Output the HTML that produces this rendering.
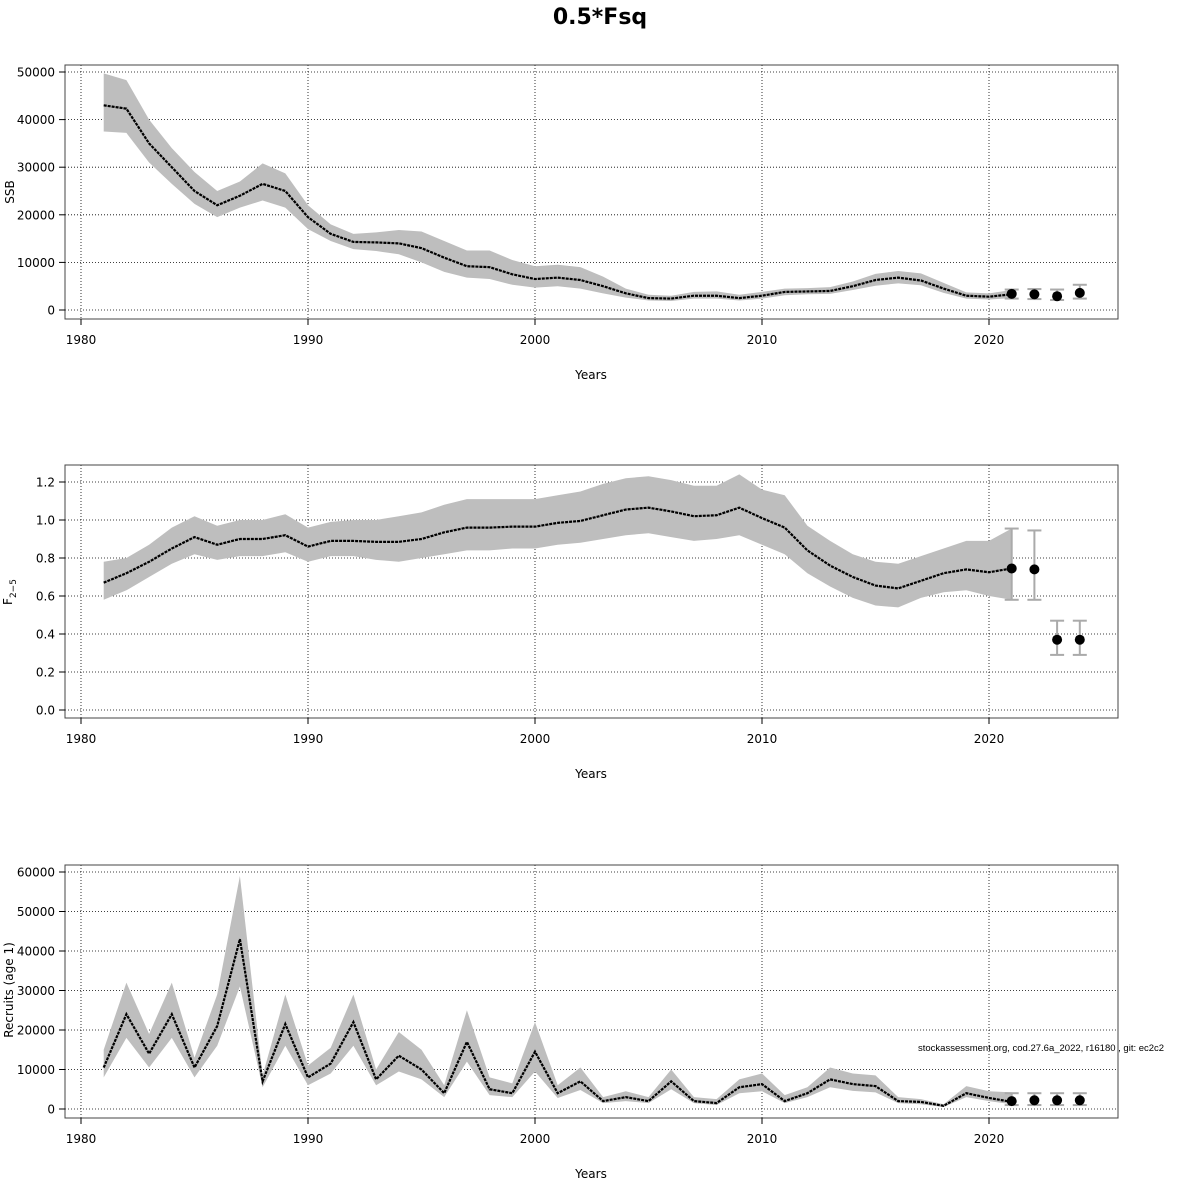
<!DOCTYPE html>
<html><head><meta charset="utf-8"><style>
html,body{margin:0;padding:0;background:#fff;}
svg{display:block;font-family:"DejaVu Sans","Liberation Sans",sans-serif;}
</style></head><body>
<svg id="s" width="1200" height="1200" xmlns="http://www.w3.org/2000/svg">
<text x="600" y="24" text-anchor="middle" font-size="22" font-weight="bold">0.5*Fsq</text>
<text x="918" y="1051" font-size="9.5" font-family="Liberation Sans, sans-serif">stockassessment.org, cod.27.6a_2022, r16180 , git: ec2c2</text>
</svg>
<script>
var S=document.getElementById('s'),NS='http://www.w3.org/2000/svg';
function el(t,a,txt){var e=document.createElementNS(NS,t);for(var k in a)e.setAttribute(k,a[k]);if(txt!==undefined)e.textContent=txt;S.appendChild(e);return e;}
function X(y){return 81+(y-1980)*22.7;}
function panel(o){
 var Y=function(v){return o.y0+(v-0)*(o.y1-o.y0)/o.vmax;};
 o.ticks.forEach(function(t){el('line',{x1:65,x2:1118,y1:Y(t),y2:Y(t),stroke:'#000','stroke-width':0.8,'stroke-dasharray':'1,2'});});
 [1980,1990,2000,2010,2020].forEach(function(yr){el('line',{x1:X(yr),x2:X(yr),y1:o.top,y2:o.bot,stroke:'#000','stroke-width':0.8,'stroke-dasharray':'1,2'});});
 var p='',n=o.m.length;
 for(var i=0;i<n;i++)p+=(i?'L':'M')+X(1981+i)+','+Y(o.u[i]);
 for(i=n-1;i>=0;i--)p+='L'+X(1981+i)+','+Y(o.l[i]);
 el('path',{d:p+'Z',fill:'#bebebe'});
 var q='';for(i=0;i<n;i++)q+=(i?'L':'M')+X(1981+i)+','+Y(o.m[i]);
 el('path',{d:q,fill:'none',stroke:'#000','stroke-width':2.2,'stroke-dasharray':'3,1'});
 o.pr.forEach(function(p,j){var x=X(2021+j);
  el('line',{x1:x,x2:x,y1:Y(p[1]),y2:Y(p[2]),stroke:'#aaa','stroke-width':2});
  el('line',{x1:x-7,x2:x+7,y1:Y(p[1]),y2:Y(p[1]),stroke:'#aaa','stroke-width':2});
  el('line',{x1:x-7,x2:x+7,y1:Y(p[2]),y2:Y(p[2]),stroke:'#aaa','stroke-width':2});
  el('circle',{cx:x,cy:Y(p[0]),r:5,fill:'#000'});});
 el('rect',{x:65,y:o.top,width:1053,height:o.bot-o.top,fill:'none',stroke:'#444','stroke-width':1});
 o.ticks.forEach(function(t,k){el('line',{x1:59,x2:65,y1:Y(t),y2:Y(t),stroke:'#000'});
  el('text',{x:55,y:Y(t)+4.5,'text-anchor':'end','font-size':12},o.lab[k]);});
 [1980,1990,2000,2010,2020].forEach(function(yr){el('line',{x1:X(yr),x2:X(yr),y1:o.bot,y2:o.bot+6,stroke:'#000'});
  el('text',{x:X(yr),y:o.bot+25,'text-anchor':'middle','font-size':12},yr);});
 el('text',{x:591,y:o.bot+60,'text-anchor':'middle','font-size':12},'Years');
}
panel({top:65,bot:319,y0:310,y1:72,vmax:50,ticks:[0,10,20,30,40,50],lab:['0','10000','20000','30000','40000','50000'],
m:[43,42.3,35,30,25,22,24,26.5,25,19.5,16,14.3,14.2,14,13,11,9.2,9,7.5,6.5,6.8,6.3,5,3.5,2.5,2.4,3,3,2.5,3,3.8,3.9,4,5,6.3,6.8,6.2,4.5,3,2.8,3.3],
u:[49.7,48.3,40,34,29,25,27,30.8,28.7,22,18,16,16.3,16.8,16.5,14.5,12.5,12.5,10.5,9.2,9.5,9,7,4.5,3.2,3,3.8,3.9,3.2,3.8,4.5,4.6,4.8,6,7.6,8.2,7.7,5.7,3.7,3.5,4.2],
l:[37.5,37.2,31,26.5,22.3,19.5,21.5,23,21.5,17,14.5,12.8,12.4,11.7,10,8,6.8,6.5,5.3,4.7,5,4.5,3.5,2.6,2,1.9,2.4,2.4,2,2.4,3.1,3.3,3.4,4.2,5.1,5.6,5.2,3.6,2.4,2.2,2.5],
pr:[[3.4,2.4,4.3],[3.3,2.3,4.4],[2.9,2.1,4.3],[3.6,2.4,5.3]]});
panel({top:465,bot:718,y0:710,y1:482,vmax:1.2,ticks:[0,.2,.4,.6,.8,1,1.2],lab:['0.0','0.2','0.4','0.6','0.8','1.0','1.2'],
m:[.67,.72,.78,.85,.91,.87,.9,.9,.92,.86,.89,.89,.885,.885,.9,.935,.96,.96,.965,.965,.985,.995,1.025,1.055,1.065,1.045,1.02,1.025,1.065,1.01,.96,.84,.76,.7,.655,.64,.68,.72,.74,.725,.745],
u:[.78,.8,.87,.96,1.02,.97,1,1,1.03,.96,.99,1,1,1.02,1.04,1.08,1.11,1.11,1.11,1.11,1.13,1.15,1.19,1.22,1.23,1.21,1.18,1.18,1.24,1.16,1.13,.97,.89,.82,.78,.77,.81,.85,.89,.89,.955],
l:[.58,.63,.7,.77,.82,.79,.81,.81,.83,.78,.81,.81,.79,.78,.8,.82,.84,.84,.85,.85,.87,.88,.9,.92,.93,.91,.89,.9,.92,.87,.82,.72,.65,.59,.55,.54,.59,.62,.63,.6,.58],
pr:[[.745,.58,.955],[.74,.58,.945],[.37,.29,.47],[.37,.29,.47]]});
panel({top:865,bot:1118,y0:1109,y1:872,vmax:60,ticks:[0,10,20,30,40,50,60],lab:['0','10000','20000','30000','40000','50000','60000'],
m:[10.5,24,14,24,10.5,21,43,7,21.5,8,11.5,22,7.5,13.5,10,4,17,5,4,14.5,4,7,2,3,2,7,2,1.5,5.5,6.3,2,4,7.5,6.3,5.8,2,1.8,.8,4,2.8,1.8],
u:[15,32,19,32,13,29,59,8.5,29,11,15.5,29,10,19.5,15,6,25,8,6.5,22,6,10.5,3,4.5,3,10,3,2.5,7.5,9,3.5,5.5,10.5,9,8.5,3,2.5,1.2,5.8,4.5,4.2],
l:[8,18,10.5,18,8,16,31,5.5,16,6,9,16,6,9.5,7.5,3,12,3.5,3,9.5,2.8,4.8,1.5,2,1.5,5,1.5,1,4,4.5,1.5,3,5.5,4.6,4.2,1.5,1.2,.5,3,2,1.2],
pr:[[2,1,4],[2.2,1,4],[2.2,1,4],[2.2,1,4]]});
el('text',{x:14,y:192,'text-anchor':'middle','font-size':12,transform:'rotate(-90 14 192)'},'SSB');
var t=el('text',{x:12,y:592,'text-anchor':'middle','font-size':12,transform:'rotate(-90 12 592)'});
var a=document.createElementNS(NS,'tspan');a.textContent='F';t.appendChild(a);
var b=document.createElementNS(NS,'tspan');b.setAttribute('font-size','9');b.setAttribute('dy','4');b.textContent='2\u22125';t.appendChild(b);
el('text',{x:13,y:990,'text-anchor':'middle','font-size':12,transform:'rotate(-90 13 990)'},'Recruits (age 1)');
</script>
</body></html>
